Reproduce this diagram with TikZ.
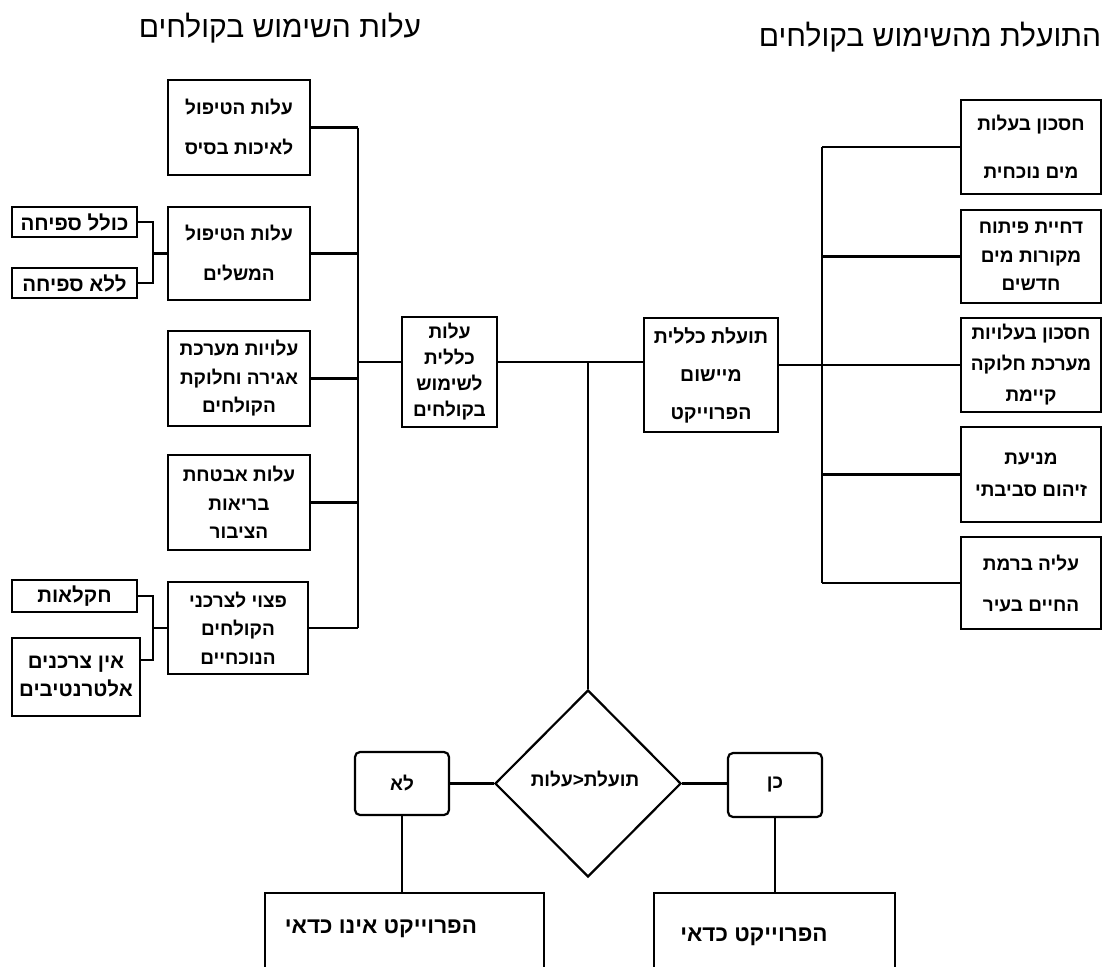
\documentclass[tikz,border=0pt]{standalone}
\usepackage{fontspec}
\TeXXeTstate=1
\newfontfamily\heb[Script=Hebrew,BoldFont={Liberation Sans Bold}]{Liberation Sans}
\usetikzlibrary{shapes.geometric}
\newcommand\RL[1]{\beginR #1\endR}
\newcommand\bx{\heb\bfseries\fontsize{19}{28.5}\selectfont}
\begin{document}
\begin{tikzpicture}[x=1pt,y=-1pt,line width=2.2pt,
  box/.style={draw,line width=2.2pt,inner sep=0pt,align=center,font=\bx},
  twoline/.style={font=\heb\bfseries\fontsize{19}{40}\selectfont},
  small/.style={font=\heb\bfseries\fontsize{20.5}{28}\selectfont},
  rbox/.style={box,rounded corners=5pt},
  lbl/.style={inner sep=0pt,font=\heb\bfseries\fontsize{19}{22}\selectfont},
  blbl/.style={inner sep=0pt,font=\heb\bfseries\fontsize{22.5}{26}\selectfont},
  ttl/.style={inner sep=0pt,font=\heb\fontsize{30}{34}\selectfont},
  conn/.style={draw,line width=2.2pt}]
\useasboundingbox (0,0) rectangle (1104,967);
\clip (0,0) rectangle (1104,967);
% titles
\node[ttl] (tL) at (280,28) {\RL{עלות השימוש בקולחים}};
\node[ttl] (tR) at (930,37) {\RL{התועלת מהשימוש בקולחים}};
% left column
\node[box,twoline,minimum width=142pt,minimum height=95pt] (L1) at (239,127.5) {\RL{עלות הטיפול}\\\RL{לאיכות בסיס}};
\node[box,twoline,minimum width=142pt,minimum height=93pt] (L2) at (239,253.5) {\RL{עלות הטיפול}\\\RL{המשלים}};
\node[box,minimum width=142pt,minimum height=95pt] (L3) at (239,378.5) {\RL{עלויות מערכת}\\\RL{אגירה וחלוקת}\\\RL{הקולחים}};
\node[box,minimum width=142pt,minimum height=95pt] (L4) at (239,502.5) {\RL{עלות אבטחת}\\\RL{בריאות}\\\RL{הציבור}};
\node[box,minimum width=140pt,minimum height=92pt] (L5) at (238,628) {\RL{פצוי לצרכני}\\\RL{הקולחים}\\\RL{הנוכחיים}};
% small boxes
\node[box,small,minimum width=125pt,minimum height=30pt] (S1) at (74.5,222) {\RL{כולל ספיחה}};
\node[box,small,minimum width=125pt,minimum height=30pt] (S2) at (74.5,283) {\RL{ללא ספיחה}};
\node[box,small,minimum width=125pt,minimum height=32pt] (S3) at (74.5,596) {\RL{חקלאות}};
\node[box,small,minimum width=128pt,minimum height=78pt] (S4) at (76,677) {\RL{אין צרכנים}\\\RL{אלטרנטיבים}};
\coordinate (bk) at (153,0);
\coordinate (busL) at (358,0);
% center boxes
\node[box,minimum width=95pt,minimum height=110pt,font=\heb\bfseries\fontsize{19}{26}\selectfont] (C1) at (449.5,372) {\RL{עלות}\\\RL{כללית}\\\RL{לשימוש}\\\RL{בקולחים}};
\node[box,minimum width=134pt,minimum height=114pt,font=\heb\bfseries\fontsize{19.5}{38}\selectfont] (C2) at (711,375) {\RL{תועלת כללית}\\\RL{מיישום}\\\RL{הפרוייקט}};
% right column
\coordinate (busR) at (822,0);
\node[box,minimum width=140pt,minimum height=94pt,font=\heb\bfseries\fontsize{19}{48}\selectfont] (R1) at (1031,147) {\RL{חסכון בעלות}\\\RL{מים נוכחית}};
\node[box,minimum width=140pt,minimum height=93pt] (R2) at (1031,256.5) {\RL{דחיית פיתוח}\\\RL{מקורות מים}\\\RL{חדשים}};
\node[box,minimum width=140pt,minimum height=94pt,font=\heb\bfseries\fontsize{19}{31}\selectfont] (R3) at (1031,365) {\RL{חסכון בעלויות}\\\RL{מערכת חלוקה}\\\RL{קיימת}};
\node[box,minimum width=140pt,minimum height=95pt,font=\heb\bfseries\fontsize{19}{32}\selectfont] (R4) at (1031,474.5) {\RL{מניעת}\\\RL{זיהום סביבתי}};
\node[box,minimum width=140pt,minimum height=92pt,font=\heb\bfseries\fontsize{19}{41}\selectfont] (R5) at (1031,583) {\RL{עליה ברמת}\\\RL{החיים בעיר}};
% decision
\node[draw,diamond,line width=2.2pt,minimum width=186pt,minimum height=187pt,inner sep=0pt] (D) at (588,783.5) {};
\node[lbl] (Dt) at (585,779) {\RL{תועלת<עלות}};
\node[rbox,minimum width=94pt,minimum height=63pt] (No) at (402,783.5) {\RL{לא}};
\node[rbox,minimum width=94pt,minimum height=64pt] (Yes) at (775,785) {\RL{כן}};
\node[draw,line width=2.2pt,minimum width=279pt,minimum height=110pt,anchor=north,inner sep=0pt] (B1) at (404.5,892) {};
\node[blbl] (B1t) at (381,929) {\RL{הפרוייקט אינו כדאי}};
\node[draw,line width=2.2pt,minimum width=241pt,minimum height=110pt,anchor=north,inner sep=0pt] (B2) at (774.5,892) {};
\node[blbl] (B2t) at (754,937) {\RL{הפרוייקט כדאי}};
% connectors left
\foreach \n in {L1,L2,L3,L4,L5} \draw[conn] (\n.east) -- (\n.east -| busL);
\draw[conn] (L1.east -| busL) -- (L5.east -| busL);
\draw[conn] (S1.east) -- (S1.east -| bk) -- (S2.east -| bk) -- (S2.east);
\draw[conn] (L2.west -| bk) -- (L2.west);
\draw[conn] (S3.east) -- (S3.east -| bk) -- ([yshift=17pt]S4.east -| bk) -- ([yshift=17pt]S4.east);
\draw[conn] (L5.west -| bk) -- (L5.west);
\draw[conn] ([yshift=10pt]C1.west -| busL) -- ([yshift=10pt]C1.west);
% centre
\coordinate (j) at ([yshift=10pt]C1.east -| D.north);
\draw[conn] ([yshift=10pt]C1.east) -- ([yshift=10pt]C1.east -| C2.west);
\draw[conn] (j) -- (D.north);
\draw[conn] (C2.east |- R3.west) -- (R3.west);
% right
\foreach \n in {R1,R2,R4,R5} \draw[conn] (\n.west -| busR) -- (\n.west);
\draw[conn] (R1.west -| busR) -- (R5.west -| busR);
% decision
\draw[conn] (D.west) -- (D.west -| No.east);
\draw[conn] (D.east) -- (D.east -| Yes.west);
\draw[conn] (No.south) -- (No.south |- B1.north);
\draw[conn] (Yes.south) -- (Yes.south |- B2.north);
\end{tikzpicture}
\end{document}
